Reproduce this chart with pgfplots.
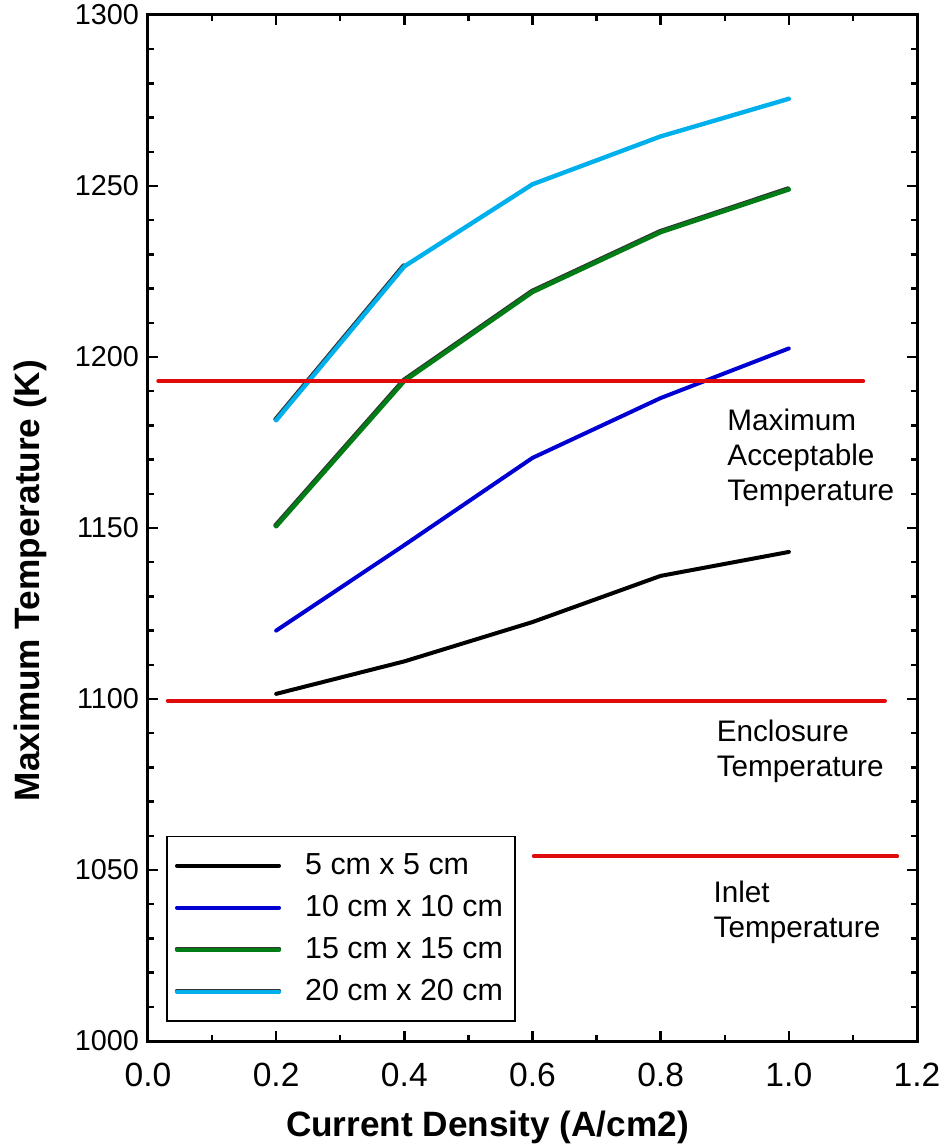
\documentclass[border=0pt]{standalone}
\usepackage{fontspec}
\setmainfont{Liberation Sans}
\usepackage{pgfplots}
\pgfplotsset{compat=1.18}
\definecolor{cBlue}{RGB}{0,0,210}
\definecolor{cGreen}{RGB}{0,125,20}
\definecolor{cCyan}{RGB}{0,176,236}
\definecolor{cRed}{RGB}{225,10,10}
\begin{document}
\begin{tikzpicture}
\useasboundingbox (-74pt,-52pt) rectangle (399pt,520.5pt);
\begin{axis}[
  at={(0pt,0pt)}, anchor=south west,
  scale only axis, width=384.5pt, height=513pt,
  xmin=0, xmax=1.2, ymin=1000, ymax=1300,
  xtick={0,0.2,...,1.2}, minor x tick num=1,
  ytick={1000,1050,...,1300}, minor y tick num=4,
  tick align=inside, tickpos=both,
  major tick length=5pt, minor tick length=3pt,
  every tick/.style={black, line width=1.2pt},
  axis line style={line width=1.5pt},
  /pgf/number format/assume math mode=true,
  xticklabel style={font=\fontsize{16.8}{19}\selectfont, yshift=-7.5pt, /pgf/number format/.cd, fixed, fixed zerofill, precision=1},
  yticklabel style={font=\fontsize{14.4}{16}\selectfont, xshift=-1pt, /pgf/number format/.cd, 1000 sep={}, fixed},
  xlabel={\bfseries Current Density (A/cm2)},
  ylabel={\bfseries Maximum Temperature (K)},
  xlabel style={font=\fontsize{17.6}{20}\selectfont, at={(axis description cs:0.4415,-0.0838)}, anchor=center},
  ylabel style={font=\fontsize{17.6}{20}\selectfont, at={(axis description cs:-0.1534,0.4488)}, anchor=center},
  legend style={at={(axis description cs:0.0234,0.2)}, anchor=north west,
    draw=black, line width=0.8pt, font=\fontsize{15.2}{17}\selectfont,
    inner xsep=4pt, inner ysep=6.5pt, row sep=5pt},
  legend cell align=left,
  legend image code/.code={\draw[#1, line cap=round] (0pt,0pt) -- (51pt,0pt); \path (61pt,0pt);},
  every axis plot/.append style={line cap=round, line join=round},
]
\addplot[black, line width=2pt] coordinates {(0.2,1101.5) (0.4,1111) (0.6,1122.5) (0.8,1136) (1.0,1143)};
\addlegendentry{5 cm x 5 cm}
\addplot[cBlue, line width=2pt] coordinates {(0.2,1120) (0.4,1145) (0.6,1170.5) (0.8,1188) (1.0,1202.5)};
\addlegendentry{10 cm x 10 cm}
\addplot[black!80, line width=2.2pt, forget plot, xshift=-0.35pt, yshift=0.45pt] coordinates {(0.2,1150.5) (0.4,1193) (0.6,1219) (0.8,1236.5) (1.0,1249)};
\addplot[cGreen, line width=2.2pt,
  legend image code/.code={\draw[black!80, line width=2.2pt, line cap=round] (0pt,0.45pt) -- (51pt,0.45pt); \draw[cGreen, line width=2.2pt, line cap=round] (0pt,0pt) -- (51pt,0pt); \path (61pt,0pt);}]
  coordinates {(0.2,1150.5) (0.4,1193) (0.6,1219) (0.8,1236.5) (1.0,1249)};
\addlegendentry{15 cm x 15 cm}
\addplot[black!80, line width=2.2pt, forget plot, xshift=-0.35pt, yshift=0.45pt] coordinates {(0.2,1181.5) (0.4,1226.5)};
\addplot[cCyan, line width=2.2pt,
  legend image code/.code={\draw[black!80, line width=2.2pt, line cap=round] (0pt,0.45pt) -- (51pt,0.45pt); \draw[cCyan, line width=2.2pt, line cap=round] (0pt,0pt) -- (51pt,0pt); \path (61pt,0pt);}]
  coordinates {(0.2,1181.5) (0.4,1226.5) (0.6,1250.5) (0.8,1264.5) (1.0,1275.5)};
\addlegendentry{20 cm x 20 cm}
\addplot[cRed, line width=2pt, forget plot] coordinates {(0.016,1193) (1.116,1193)};
\addplot[cRed, line width=2pt, forget plot] coordinates {(0.031,1099.5) (1.150,1099.5)};
\addplot[cRed, line width=2pt, forget plot] coordinates {(0.602,1054) (1.169,1054)};
\node[anchor=north west, align=left, inner sep=0pt, font=\fontsize{14.85}{17.5}\selectfont] at (axis cs:0.9036,1185) {Maximum\\Acceptable\\Temperature};
\node[anchor=north west, align=left, inner sep=0pt, font=\fontsize{14.85}{17.5}\selectfont] at (axis cs:0.887,1094) {Enclosure\\Temperature};
\node[anchor=north west, align=left, inner sep=0pt, font=\fontsize{14.85}{17.5}\selectfont] at (axis cs:0.882,1047) {Inlet\\Temperature};
\end{axis}
\end{tikzpicture}
\end{document}
